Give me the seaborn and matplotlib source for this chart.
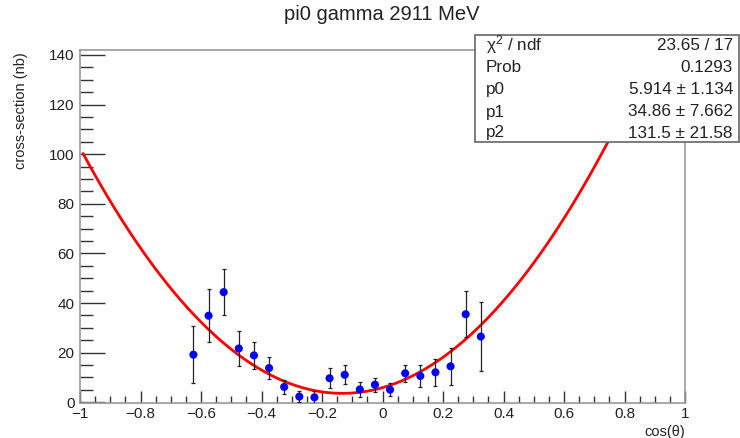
import numpy as np
import pandas as pd
import matplotlib
matplotlib.use("Agg")
import matplotlib.pyplot as plt
import seaborn as sns
from matplotlib.ticker import MultipleLocator, FuncFormatter

# ---- data ----
cos_theta = [-0.625, -0.575, -0.525, -0.475, -0.425, -0.375, -0.325, -0.275, -0.225, -0.175,
             -0.125, -0.075, -0.025, 0.025, 0.075, 0.125, 0.175, 0.225, 0.275, 0.325]
xsec = [19.2, 34.9, 44.4, 21.7, 18.9, 13.8, 6.2, 2.3, 2.0, 9.7,
        11.1, 5.2, 7.1, 5.1, 11.7, 10.6, 12.1, 14.5, 35.5, 26.5]
xsec_err = [11.5, 10.7, 9.2, 7.1, 5.4, 4.3, 2.7, 2.2, 2.7, 4.0,
            3.9, 2.9, 2.8, 2.6, 3.5, 4.4, 5.4, 7.5, 9.3, 13.9]
fit_params = [5.914, 34.86, 131.5]
fit_errors = [1.134, 7.662, 21.58]
fit_range = [-0.99, 1.0]
chi2, ndf, prob = 23.65, 17, 0.1293
title = "pi0 gamma 2911 MeV"

sns.set_theme(style="white")
plt.rcParams['font.family'] = ['Liberation Sans', 'DejaVu Sans']
plt.rcParams['mathtext.fontset'] = 'custom'
plt.rcParams['mathtext.rm'] = 'Liberation Sans'
plt.rcParams['mathtext.it'] = 'Liberation Sans:italic'

W, H = 740, 438
fig = plt.figure(figsize=(W / 100, H / 100), dpi=100)
fig.patch.set_facecolor('white')
ax = fig.add_axes([80 / W, 1 - 403.3 / H, 605 / W, 353.3 / H])
ax.set_facecolor('white')

# fit curve
xf = np.linspace(fit_range[0], fit_range[1], 801)
yf = fit_params[0] + fit_params[1] * xf + fit_params[2] * xf ** 2
curve = pd.DataFrame({"x": xf, "y": yf})
sns.lineplot(data=curve, x="x", y="y", ax=ax, color="#ff0000", lw=2, zorder=2)

# data points
df = pd.DataFrame({"x": cos_theta, "y": xsec, "e": xsec_err})
ax.errorbar(df["x"], df["y"], yerr=df["e"], fmt="none", ecolor="#222222",
            elinewidth=0.9, capsize=1.5, capthick=0.9, zorder=3)
sns.scatterplot(data=df, x="x", y="y", ax=ax, color="#0000ff", s=34,
                edgecolor="none", zorder=4)

ax.set_xlim(-1, 1)
ax.set_ylim(-0.4, 142)
ax.set_xlabel("")
ax.set_ylabel("")

for sp in ax.spines.values():
    sp.set_color("#999999")
    sp.set_linewidth(1.2)

ax.xaxis.set_major_locator(MultipleLocator(0.2))
ax.xaxis.set_minor_locator(MultipleLocator(0.05))
ax.yaxis.set_major_locator(MultipleLocator(20))
ax.yaxis.set_minor_locator(MultipleLocator(5))

def fmt(v, pos):
    s = ("%g" % round(v, 3))
    if s == "-0":
        s = "0"
    return s.replace("-", "\u2212")

ax.xaxis.set_major_formatter(FuncFormatter(fmt))
ax.yaxis.set_major_formatter(FuncFormatter(fmt))

ax.tick_params(axis="x", which="major", direction="in", length=9, width=1,
               color="#333333", labelsize=11, labelcolor="#222222", pad=3,
               top=False, bottom=True)
ax.tick_params(axis="x", which="minor", direction="in", length=5, width=1,
               color="#333333", top=False, bottom=True)
ax.tick_params(axis="y", which="major", direction="in", length=18, width=1,
               color="#333333", labelsize=11, labelcolor="#222222", pad=4,
               right=False, left=True)
ax.tick_params(axis="y", which="minor", direction="in", length=9, width=1,
               color="#333333", right=False, left=True)

# titles
fig.text(382 / W, 1 - 14 / H, title, ha="center", va="center", fontsize=14.5, color="#222222")
fig.text(21 / W, 1 - 52 / H, "cross-section (nb)", rotation=90, ha="center", va="top",
         fontsize=10.5, color="#222222")
fig.text(685 / W, 1 - 432 / H, "cos(\u03b8)", ha="right", va="center", fontsize=10.5,
         color="#222222")

# stats box
bx0, by0, bx1, by1 = 475, 35, 739, 142
box = plt.Rectangle((bx0 / W, 1 - by1 / H), (bx1 - bx0) / W, (by1 - by0) / H,
                    transform=fig.transFigure, facecolor="white", edgecolor="#666666",
                    lw=1.2, zorder=10)
fig.add_artist(box)
rows = [("\u03c7$^{2}$ / ndf", "%.2f / %d" % (chi2, ndf)),
        ("Prob", "%.4f" % prob),
        ("p0", "%.3f \u00b1 %.3f" % (fit_params[0], fit_errors[0])),
        ("p1", "%.2f \u00b1 %.3f" % (fit_params[1], fit_errors[1])),
        ("p2", "%.1f \u00b1 %.2f" % (fit_params[2], fit_errors[2]))]
ys = [45, 68, 90, 112, 133]
for (lab, val), yy in zip(rows, ys):
    fig.text(486 / W, 1 - yy / H, lab, ha="left", va="center", fontsize=12.3,
             color="#222222", zorder=11)
    fig.text(733 / W, 1 - yy / H, val, ha="right", va="center", fontsize=12.3,
             color="#222222", zorder=11)

fig.savefig("out.png", dpi=100, facecolor="white")
